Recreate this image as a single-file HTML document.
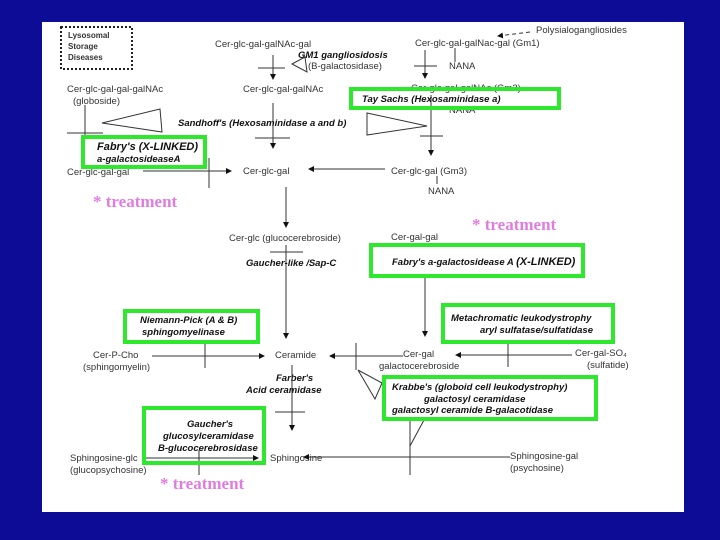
<!DOCTYPE html>
<html><head><style>
body{margin:0;background:#0c0c96;}
svg{display:block}
text{font-family:"Liberation Sans",sans-serif;font-size:9.5px;fill:#333}
.b{font-weight:bold;font-style:italic;fill:#111}
.t{font-family:"Liberation Serif",serif;font-weight:bold;font-size:17px;fill:#e07ce0}
.g{fill:none;stroke:#2de82d;stroke-width:4}
line,polyline,polygon.l{stroke:#333;stroke-width:1;fill:none}
</style></head><body>
<svg width="720" height="540" viewBox="0 0 720 540" xmlns="http://www.w3.org/2000/svg">
<defs><marker id="a" markerWidth="6" markerHeight="6" refX="5" refY="3" orient="auto"><path d="M0,0 L6,3 L0,6 z" fill="#111"/></marker></defs>
<rect x="0" y="0" width="720" height="540" fill="#0c0c96"/>
<rect x="42" y="22" width="642" height="490" fill="#fff"/>
<rect x="61" y="27" width="71" height="42" fill="none" stroke="#222" stroke-width="2" stroke-dasharray="2,2"/>
<text x="68" y="38" style="font-size:8px;font-weight:bold">Lysosomal</text>
<text x="68" y="49" style="font-size:8px;font-weight:bold">Storage</text>
<text x="68" y="60" style="font-size:8px;font-weight:bold">Diseases</text>

<text x="215" y="47">Cer-glc-gal-galNAc-gal</text>
<text x="298" y="58" class="b">GM1 gangliosidosis</text>
<text x="308" y="69">(B-galactosidase)</text>
<polygon class="l" points="292,64 305,57 307,72"/>
<line x1="273" y1="55" x2="273" y2="79" marker-end="url(#a)"/>
<line x1="258" y1="68" x2="285" y2="68"/>
<text x="243" y="92">Cer-glc-gal-galNAc</text>
<line x1="273" y1="103" x2="273" y2="148" marker-end="url(#a)"/>
<line x1="255" y1="138" x2="290" y2="138"/>
<text x="178" y="126" class="b">Sandhoff's (Hexosaminidase a and b)</text>
<polygon class="l" points="102,123 160,109 162,132"/>
<text x="67" y="92">Cer-glc-gal-gal-galNAc</text>
<text x="73" y="104">(globoside)</text>
<line x1="85" y1="105" x2="85" y2="140"/>
<line x1="67" y1="133" x2="103" y2="133"/>
<text x="67" y="175">Cer-glc-gal-gal</text>
<line x1="143" y1="171" x2="231" y2="171" marker-end="url(#a)"/>
<line x1="209" y1="158" x2="209" y2="188"/>
<text x="243" y="174">Cer-glc-gal</text>
<line x1="385" y1="169" x2="309" y2="169" marker-end="url(#a)"/>
<line x1="286" y1="187" x2="286" y2="227" marker-end="url(#a)"/>

<text x="536" y="33">Polysialogangliosides</text>
<line x1="530" y1="32" x2="498" y2="36" stroke-dasharray="4,3" marker-end="url(#a)"/>
<text x="415" y="46">Cer-glc-gal-galNac-gal (Gm1)</text>
<line x1="455" y1="48" x2="455" y2="62"/>
<text x="449" y="69">NANA</text>
<line x1="425" y1="50" x2="425" y2="78" marker-end="url(#a)"/>
<line x1="414" y1="66" x2="437" y2="66"/>
<text x="411" y="91">Cer-glc-gal-galNAc (Gm2)</text>
<text x="449" y="113">NANA</text>
<polygon class="l" points="367,113 427,126 367,135"/>
<line x1="431" y1="95" x2="431" y2="155" marker-end="url(#a)"/>
<line x1="420" y1="136" x2="443" y2="136"/>
<text x="391" y="174">Cer-glc-gal (Gm3)</text>
<line x1="437" y1="176" x2="437" y2="184"/>
<text x="428" y="194">NANA</text>

<text x="229" y="241">Cer-glc (glucocerebroside)</text>
<line x1="286" y1="245" x2="286" y2="338" marker-end="url(#a)"/>
<line x1="270" y1="252" x2="303" y2="252"/>
<text x="246" y="266" class="b">Gaucher-like /Sap-C</text>
<text x="391" y="240">Cer-gal-gal</text>
<line x1="425" y1="243" x2="425" y2="336" marker-end="url(#a)"/>
<line x1="411" y1="252" x2="443" y2="252"/>

<text x="275" y="358">Ceramide</text>
<line x1="152" y1="356" x2="264" y2="356" marker-end="url(#a)"/>
<line x1="205" y1="343" x2="205" y2="368"/>
<text x="93" y="358">Cer-P-Cho</text>
<text x="83" y="370">(sphingomyelin)</text>
<line x1="403" y1="356" x2="330" y2="356" marker-end="url(#a)"/>
<line x1="356" y1="343" x2="356" y2="370"/>
<polyline points="358,370 382,383 375,399 358,370"/>
<text x="403" y="357">Cer-gal</text>
<text x="379" y="369">galactocerebroside</text>
<line x1="572" y1="355" x2="456" y2="355" marker-end="url(#a)"/>
<line x1="508" y1="343" x2="508" y2="367"/>
<text x="575" y="356">Cer-gal-SO₄</text>
<text x="587" y="368">(sulfatide)</text>
<text x="276" y="381" class="b">Farber's</text>
<text x="246" y="393" class="b">Acid ceramidase</text>
<line x1="292" y1="365" x2="292" y2="430" marker-end="url(#a)"/>
<line x1="275" y1="412" x2="305" y2="412"/>
<text x="270" y="461">Sphingosine</text>
<line x1="145" y1="458" x2="258" y2="458" marker-end="url(#a)"/>
<line x1="199" y1="450" x2="199" y2="475"/>
<text x="70" y="461">Sphingosine-glc</text>
<text x="70" y="473">(glucopsychosine)</text>
<line x1="510" y1="457" x2="304" y2="457" marker-end="url(#a)"/>
<line x1="410" y1="420" x2="410" y2="475"/>
<polyline points="410,446 424,420"/>
<text x="510" y="459">Sphingosine-gal</text>
<text x="510" y="471">(psychosine)</text>

<rect class="g" x="351" y="89" width="208" height="19" fill="#fff"/>
<text x="362" y="102" class="b">Tay Sachs (Hexosaminidase a)</text>
<rect class="g" x="83" y="137" width="122" height="30" style="fill:#fff"/>
<text x="97" y="150" class="b" style="font-size:11px">Fabry's (X-LINKED)</text>
<text x="97" y="162" class="b">a-galactosideaseA</text>
<rect class="g" x="371" y="245" width="212" height="31" style="fill:#fff"/>
<text x="392" y="265" class="b">Fabry's  a-galactosidease A <tspan style="font-size:11px">(X-LINKED)</tspan></text>
<rect class="g" x="125" y="311" width="133" height="31"/>
<text x="140" y="323" class="b">Niemann-Pick (A &amp; B)</text>
<text x="142" y="335" class="b">sphingomyelinase</text>
<rect class="g" x="443" y="305" width="170" height="37"/>
<text x="451" y="321" class="b">Metachromatic leukodystrophy</text>
<text x="480" y="333" class="b">aryl sulfatase/sulfatidase</text>
<rect class="g" x="384" y="377" width="212" height="42"/>
<text x="392" y="390" class="b">Krabbe's (globoid cell leukodystrophy)</text>
<text x="424" y="402" class="b">galactosyl ceramidase</text>
<text x="392" y="413" class="b">galactosyl ceramide B-galacotidase</text>
<rect class="g" x="144" y="408" width="120" height="55"/>
<text x="187" y="427" class="b">Gaucher's</text>
<text x="163" y="439" class="b">glucosylceramidase</text>
<text x="158" y="451" class="b">B-glucocerebrosidase</text>

<text x="93" y="207" class="t">* treatment</text>
<text x="472" y="230" class="t">* treatment</text>
<text x="160" y="489" class="t">* treatment</text>
</svg>
</body></html>
